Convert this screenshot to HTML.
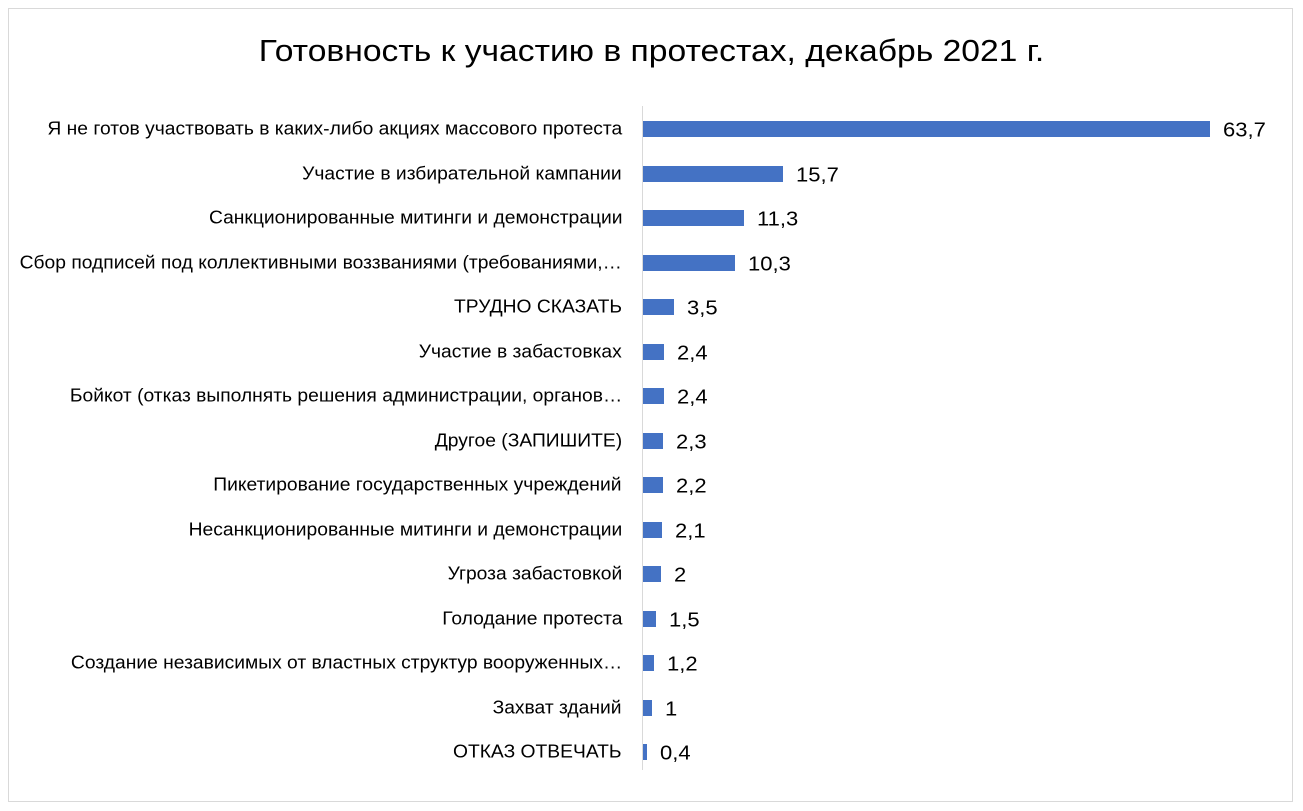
<!DOCTYPE html>
<html><head><meta charset="utf-8"><style>
body{margin:0;width:1303px;height:811px;background:#fff;overflow:hidden;font-family:"Liberation Sans","DejaVu Sans",sans-serif}
.frame{position:absolute;left:8px;top:8px;width:1285px;height:794px;border:1px solid #d9d9d9;box-sizing:border-box}
.title{position:absolute;left:0;width:1303px;top:33px;text-align:center;font-size:31px;color:#000;transform:scaleX(1.085)}
.axis{position:absolute;left:642px;top:106px;width:1px;height:664px;background:#d9d9d9}
.lab{position:absolute;right:681px;font-size:18px;color:#000;white-space:nowrap;transform-origin:right center;transform:translateY(-50%) scaleX(1.07)}
.bar{position:absolute;left:643px;height:16px;background:#4472c4;transform:translateY(-50%)}
.val{position:absolute;font-size:20px;color:#000;transform-origin:left center;transform:translateY(-50%) scaleX(1.1)}
</style></head><body>
<div class="frame"></div>
<div class="title">Готовность к участию в протестах, декабрь 2021 г.</div>
<div class="axis"></div>
<div id="c"></div>
<script>
var d=[["Я не готов участвовать в каких-либо акциях массового протеста",63.7,"63,7"],["Участие в избирательной кампании",15.7,"15,7"],["Санкционированные митинги и демонстрации",11.3,"11,3"],["Сбор подписей под коллективными воззваниями (требованиями,…",10.3,"10,3"],["ТРУДНО СКАЗАТЬ",3.5,"3,5"],["Участие в забастовках",2.4,"2,4"],["Бойкот (отказ выполнять решения администрации, органов…",2.4,"2,4"],["Другое (ЗАПИШИТЕ)",2.3,"2,3"],["Пикетирование государственных учреждений",2.2,"2,2"],["Несанкционированные митинги и демонстрации",2.1,"2,1"],["Угроза забастовкой",2,"2"],["Голодание протеста",1.5,"1,5"],["Создание независимых от властных структур вооруженных…",1.2,"1,2"],["Захват зданий",1,"1"],["ОТКАЗ ОТВЕЧАТЬ",0.4,"0,4"]];
var h="";d.forEach(function(r,i){var y=129+i*44.5;var w=r[1]*8.9;
h+='<div class="lab" style="top:'+y+'px">'+r[0]+'</div><div class="bar" style="top:'+y+'px;width:'+w+'px"></div><div class="val" style="top:'+(y+2)+'px;left:'+(643+w+13)+'px">'+r[2]+'</div>';});
document.getElementById("c").innerHTML=h;
</script>
</body></html>
